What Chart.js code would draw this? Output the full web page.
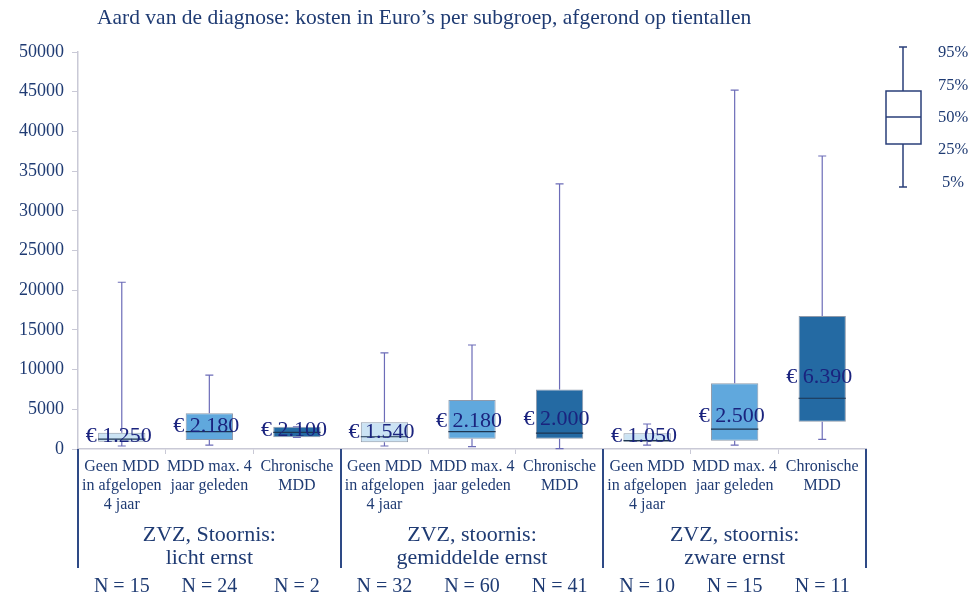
<!DOCTYPE html>
<html>
<head>
<meta charset="utf-8">
<script src="https://cdn.jsdelivr.net/npm/chart.js@4.4.1/dist/chart.umd.min.js"></script>
<style>
    html, body { margin: 0; padding: 0; background: #ffffff; }
    #wrap { width: 970px; height: 599px; position: relative; }
</style>
</head>
<body>
<div id="wrap"><canvas id="chartKosten" width="970" height="599"></canvas></div>
<script>
// subgroepen (x-as)
const categorieen = [
    ["Geen MDD", "in afgelopen", "4 jaar"], ["MDD max. 4", "jaar geleden"], ["Chronische", "MDD"],
    ["Geen MDD", "in afgelopen", "4 jaar"], ["MDD max. 4", "jaar geleden"], ["Chronische", "MDD"],
    ["Geen MDD", "in afgelopen", "4 jaar"], ["MDD max. 4", "jaar geleden"], ["Chronische", "MDD"]
];
const groepen = [["ZVZ, Stoornis:", "licht ernst"], ["ZVZ, stoornis:", "gemiddelde ernst"], ["ZVZ, stoornis:", "zware ernst"]];
const aantallen = [15, 24, 2, 32, 60, 41, 10, 15, 11];

const p5  = [380, 500, 1470, 380, 300, 50, 500, 500, 1220];
const p25 = [920, 1130, 1470, 840, 1300, 1300, 900, 1050, 3440];
const p50 = [1250, 2180, 2100, 1540, 2180, 2000, 1050, 2500, 6390];
const p75 = [2050, 4500, 2800, 3360, 6170, 7500, 1980, 8270, 16750];
const p95 = [21000, 9300, 2800, 12100, 13100, 33400, 3150, 45200, 36900];
const mediaanLabels = ["€ 1.250", "€ 2.180", "€ 2.100", "€ 1.540", "€ 2.180", "€ 2.000", "€ 1.050", "€ 2.500", "€ 6.390"];

const yTicks = [0, 5000, 10000, 15000, 20000, 25000, 30000, 35000, 40000, 45000, 50000];
const kleuren = ["#cbe3f4", "#60a8dd", "#246aa3"];

const NAVY = "#1f3b73";
const FONT = "'Liberation Serif', 'DejaVu Serif', serif";

const boxPlugin = {
    id: "boxPlugin",
    afterDatasetsDraw(chart) {
        const ctx = chart.ctx;
        const y = chart.scales.y;
        const meta = chart.getDatasetMeta(0);
        ctx.save();
        meta.data.forEach((bar, i) => {
            const x = bar.x;
            const half = bar.width / 2;
            // whiskers
            ctx.strokeStyle = "#6c6cb8";
            ctx.lineWidth = 1.2;
            ctx.beginPath();
            ctx.moveTo(x, y.getPixelForValue(p75[i]));
            ctx.lineTo(x, y.getPixelForValue(p95[i]));
            ctx.moveTo(x - 4, y.getPixelForValue(p95[i]));
            ctx.lineTo(x + 4, y.getPixelForValue(p95[i]));
            ctx.moveTo(x, y.getPixelForValue(p25[i]));
            ctx.lineTo(x, y.getPixelForValue(p5[i]));
            ctx.moveTo(x - 4, y.getPixelForValue(p5[i]));
            ctx.lineTo(x + 4, y.getPixelForValue(p5[i]));
            ctx.stroke();
            // mediaan
            ctx.strokeStyle = "#1d3550";
            ctx.lineWidth = 1.2;
            ctx.beginPath();
            ctx.moveTo(x - half, y.getPixelForValue(p50[i]));
            ctx.lineTo(x + half, y.getPixelForValue(p50[i]));
            ctx.stroke();
        });
        // labels
        ctx.fillStyle = "#1a237e";
        ctx.font = "22px " + FONT;
        ctx.textAlign = "center";
        ctx.textBaseline = "middle";
        meta.data.forEach((bar, i) => {
            const mid = (y.getPixelForValue(p25[i]) + y.getPixelForValue(p75[i])) / 2;
            const ly = 0.65 * mid + 0.35 * y.getPixelForValue(p50[i]) - 2;
            ctx.fillText(mediaanLabels[i], bar.x - 3, ly);
        });
        ctx.restore();
    },
    afterDraw(chart) {
        const ctx = chart.ctx;
        const area = chart.chartArea;
        const xs = chart.scales.x;
        ctx.save();

        // titel
        ctx.fillStyle = NAVY;
        ctx.font = "21.5px " + FONT;
        ctx.textAlign = "left";
        ctx.textBaseline = "middle";
        ctx.fillText("Aard van de diagnose: kosten in Euro’s per subgroep, afgerond op tientallen", 97, 18);

        // groepscheidingen
        const breedte = (area.right - area.left) / categorieen.length;
        ctx.strokeStyle = "#2e4a86";
        ctx.lineWidth = 2;
        for (let g = 0; g <= groepen.length; g++) {
            const gx = Math.round(area.left + g * 3 * breedte);
            ctx.beginPath();
            ctx.moveTo(gx, area.bottom);
            ctx.lineTo(gx, 568);
            ctx.stroke();
        }

        // groepslabels
        ctx.fillStyle = NAVY;
        ctx.font = "22px " + FONT;
        ctx.textAlign = "center";
        groepen.forEach((g, i) => {
            const gx = area.left + (i * 3 + 1.5) * breedte;
            ctx.fillText(g[0], gx, 535);
            ctx.fillText(g[1], gx, 558);
        });

        // N
        ctx.font = "20px " + FONT;
        aantallen.forEach((n, i) => {
            ctx.fillText("N = " + n, xs.getPixelForValue(i), 587);
        });

        // legenda
        const lx = 903;
        ctx.strokeStyle = "#2a3f7a";
        ctx.lineWidth = 1.5;
        ctx.strokeRect(886, 91, 35, 53);
        ctx.beginPath();
        ctx.moveTo(886, 117); ctx.lineTo(921, 117);
        ctx.moveTo(lx, 91); ctx.lineTo(lx, 47);
        ctx.moveTo(lx - 4, 47); ctx.lineTo(lx + 4, 47);
        ctx.moveTo(lx, 144); ctx.lineTo(lx, 187);
        ctx.moveTo(lx - 4, 187); ctx.lineTo(lx + 4, 187);
        ctx.stroke();
        ctx.font = "16.5px " + FONT;
        ctx.fillStyle = NAVY;
        ctx.textAlign = "left";
        ctx.fillText("95%", 938, 53);
        ctx.fillText("75%", 938, 86);
        ctx.fillText("50%", 938, 118);
        ctx.fillText("25%", 938, 150);
        ctx.fillText("5%", 942, 183);

        ctx.restore();
    }
};

new Chart(document.getElementById("chartKosten"), {
    type: "bar",
    data: {
        labels: categorieen,
        datasets: [{
            data: p25.map((v, i) => [v, p75[i]]),
            backgroundColor: categorieen.map((c, i) => kleuren[i % 3]),
            borderColor: "#8f9aab",
            borderWidth: 1,
            borderSkipped: false,
            barPercentage: 0.54,
            categoryPercentage: 1
        }]
    },
    options: {
        responsive: false,
        animation: false,
        layout: { padding: { left: 0, right: 104, top: 52, bottom: 0 } },
        plugins: {
            legend: { display: false },
            tooltip: { enabled: false }
        },
        scales: {
            x: {
                grid: { display: true, drawOnChartArea: false, offset: true, tickLength: 5, color: "#c9c9d6" },
                border: { color: "#c9c9d6", width: 1.5 },
                ticks: {
                    color: NAVY,
                    font: { family: FONT, size: 16 },
                    padding: 3,
                    maxRotation: 0,
                    autoSkip: false
                },
                afterFit(scale) { scale.height = 150; }
            },
            y: {
                min: 0,
                max: 50000,
                afterBuildTicks(scale) { scale.ticks = yTicks.map(v => ({ value: v })); },
                grid: { display: true, drawOnChartArea: false, tickLength: 6, color: "#c9c9d6" },
                border: { color: "#c9c9d6", width: 1.5 },
                ticks: {
                    color: NAVY,
                    font: { family: FONT, size: 18 },
                    padding: 8,
                    callback: v => String(v)
                },
                afterFit(scale) { scale.width = 78; }
            }
        }
    },
    plugins: [boxPlugin]
});
</script>
</body>
</html>
